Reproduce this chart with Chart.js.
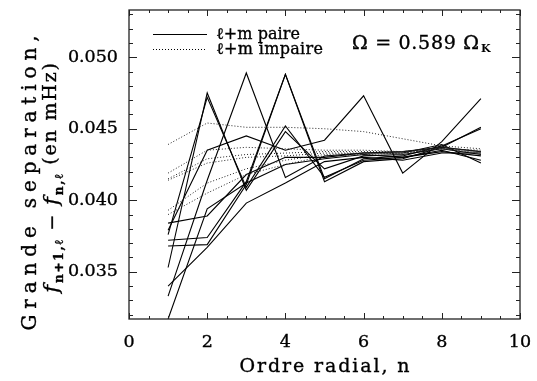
<!DOCTYPE html>
<html>
<head>
<meta charset="utf-8">
<script src="https://cdn.jsdelivr.net/npm/chart.js@4"></script>
<style>
  body { margin: 0; background: #fff; }
  canvas { display: block; }
</style>
</head>
<body>
<canvas id="grandeSeparation" width="537" height="381"></canvas>
<script>
// ordre radial n
const radialOrder = [1, 2, 3, 4, 5, 6, 7, 8, 9];

// l+m paire (traits pleins), en mHz
const paireA = [0.0384, 0.0389, 0.0418, 0.0430, 0.0430, 0.0433, 0.0434, 0.0437, 0.0434];
const paireB = [0.0379, 0.0435, 0.0445, 0.0435, 0.0442, 0.0473, 0.0419, 0.0441, 0.0471];
const paireC = [0.0376, 0.0472, 0.0409, 0.0452, 0.0416, 0.0428, 0.0430, 0.0435, 0.0428];
const paireD = [0.0372, 0.0374, 0.0413, 0.0488, 0.0413, 0.0427, 0.0429, 0.0437, 0.0451];
const paireE = [0.0368, 0.0369, 0.0411, 0.0488, 0.0415, 0.0429, 0.0431, 0.0438, 0.0450];
const paireF = [0.0353, 0.0475, 0.0407, 0.0448, 0.0422, 0.0431, 0.0432, 0.0436, 0.0432];
const paireG = [0.0340, 0.0367, 0.0398, 0.0412, 0.0427, 0.0430, 0.0428, 0.0433, 0.0433];
const paireH = [0.0333, 0.0414, 0.0489, 0.0416, 0.0431, 0.0433, 0.0433, 0.0439, 0.0426];
const paireI = [0.0317, 0.0394, 0.0412, 0.0425, 0.0429, 0.0432, 0.0430, 0.0434, 0.0431];

// l+m impaire (pointillés)
const impaireA = [0.0439, 0.0454, 0.0451, 0.0451, 0.0450, 0.0448, 0.0443, 0.0438, 0.0436];
const impaireB = [0.0419, 0.0435, 0.0437, 0.0436, 0.0435, 0.0435, 0.0434, 0.0436, 0.0435];
const impaireC = [0.0415, 0.0429, 0.0432, 0.0433, 0.0434, 0.0434, 0.0434, 0.0437, 0.0434];
const impaireD = [0.0414, 0.0426, 0.0430, 0.0431, 0.0433, 0.0433, 0.0433, 0.0436, 0.0433];
const impaireE = [0.0393, 0.0412, 0.0422, 0.0428, 0.0432, 0.0433, 0.0434, 0.0437, 0.0434];
const impaireF = [0.0390, 0.0405, 0.0418, 0.0425, 0.0431, 0.0432, 0.0433, 0.0436, 0.0433];

const seriesPaire = [paireA, paireB, paireC, paireD, paireE, paireF, paireG, paireH, paireI];
const seriesImpaire = [impaireA, impaireB, impaireC, impaireD, impaireE, impaireF];

const xTicks = [0, 2, 4, 6, 8, 10];
const yTicks = [0.035, 0.040, 0.045, 0.050];
const xMin = 0, xMax = 10;
const yMin = 0.0317, yMax = 0.0533;

const SERIF = '"DejaVu Serif", "Liberation Serif", serif';

function toPoints(vals) {
    return radialOrder.map((n, i) => ({ x: n, y: vals[i] }));
}

const datasets = [];
seriesImpaire.forEach(vals => {
    datasets.push({
        data: toPoints(vals),
        borderColor: "#222",
        borderWidth: 1,
        borderDash: [1, 2]
    });
});
seriesPaire.forEach(vals => {
    datasets.push({
        data: toPoints(vals),
        borderColor: "#000",
        borderWidth: 1.1
    });
});

// texte un peu plus gras (trait fin autour)
function heavyText(ctx, text, x, y) {
    ctx.fillText(text, x, y);
    ctx.lineWidth = 0.35;
    ctx.strokeStyle = "#000";
    ctx.strokeText(text, x, y);
}

// dessine un texte étiré à une largeur donnée (espacement des lettres)
function fitText(ctx, text, x, y, width, align) {
    ctx.letterSpacing = "0px";
    const w = ctx.measureText(text).width;
    const sp = text.length > 1 ? (width - w) / (text.length - 1) : 0;
    ctx.letterSpacing = sp + "px";
    let x0 = x;
    if (align === "center") x0 = x - width / 2;
    if (align === "right") x0 = x - width;
    ctx.textAlign = "left";
    heavyText(ctx, text, x0, y);
    ctx.letterSpacing = "0px";
}

// morceaux de texte avec indices
function drawRuns(ctx, runs, cx, y, spacing) {
    let total = 0;
    runs.forEach(r => {
        ctx.font = r.font;
        ctx.letterSpacing = spacing + "px";
        r.w = ctx.measureText(r.text).width;
        total += r.w;
    });
    let x = cx - total / 2;
    ctx.textAlign = "left";
    runs.forEach(r => {
        ctx.font = r.font;
        ctx.letterSpacing = spacing + "px";
        heavyText(ctx, r.text, x, y + (r.dy || 0));
        x += r.w;
    });
    ctx.letterSpacing = "0px";
}

const idlAxes = {
    id: "idlAxes",
    afterDatasetsDraw(chart) {
        const { ctx, chartArea: a, scales: { x, y } } = chart;
        ctx.save();
        ctx.strokeStyle = "#222";
        ctx.lineWidth = 1.3;
        ctx.strokeRect(a.left, a.top, a.right - a.left, a.bottom - a.top);

        ctx.lineWidth = 1;
        ctx.beginPath();
        for (let k = 0; k <= 20; k++) {
            const v = k * 0.5;
            const px = Math.round(x.getPixelForValue(v)) + 0.5;
            const len = (k % 4 === 0) ? 6 : 3;
            ctx.moveTo(px, a.bottom); ctx.lineTo(px, a.bottom - len);
            ctx.moveTo(px, a.top); ctx.lineTo(px, a.top + len);
        }
        for (let k = 32; k <= 53; k++) {
            const v = k / 1000;
            const py = Math.round(y.getPixelForValue(v)) + 0.5;
            const len = (k % 5 === 0) ? 8 : 4;
            ctx.moveTo(a.left, py); ctx.lineTo(a.left + len, py);
            ctx.moveTo(a.right, py); ctx.lineTo(a.right - len, py);
        }
        ctx.stroke();

        ctx.fillStyle = "#000";
        ctx.font = "17.5px " + SERIF;
        ctx.textBaseline = "middle";
        yTicks.forEach(v => {
            ctx.textAlign = "right";
            heavyText(ctx, v.toFixed(3), a.left - 11, y.getPixelForValue(v));
        });
        xTicks.forEach(v => {
            ctx.textAlign = "center";
            heavyText(ctx, String(v), x.getPixelForValue(v), 342);
        });

        // titre axe x
        ctx.textBaseline = "alphabetic";
        ctx.font = "19px " + SERIF;
        fitText(ctx, "Ordre radial, n", (a.left + a.right) / 2, 372, 170, "center");

        // titre axe y (deux lignes, tourné)
        ctx.save();
        ctx.rotate(-Math.PI / 2);
        ctx.font = "20px " + SERIF;
        fitText(ctx, "Grande separation,", -183, 36, 295, "center");
        drawRuns(ctx, [
            { text: "f", font: "italic 21px " + SERIF },
            { text: "n+1,\u2113", font: "bold 12px " + SERIF, dy: 5 },
            { text: " \u2212 ", font: "19px " + SERIF },
            { text: "f", font: "italic 21px " + SERIF },
            { text: "n,\u2113", font: "bold 12px " + SERIF, dy: 5 },
            { text: " (en mHz)", font: "19px " + SERIF, dy: -2 }
        ], -177, 58, 1.8);
        ctx.restore();

        // légende
        ctx.strokeStyle = "#000";
        ctx.lineWidth = 1;
        ctx.beginPath();
        ctx.moveTo(153, 34.5); ctx.lineTo(207, 34.5);
        ctx.stroke();
        ctx.setLineDash([1, 2]);
        ctx.beginPath();
        ctx.moveTo(153, 49.5); ctx.lineTo(207, 49.5);
        ctx.stroke();
        ctx.setLineDash([]);

        ctx.font = "16px " + SERIF;
        fitText(ctx, "\u2113+m paire", 216, 39, 84, "left");
        fitText(ctx, "\u2113+m impaire", 216, 54, 107, "left");

        ctx.font = "19px " + SERIF;
        fitText(ctx, "\u03A9 = 0.589 \u03A9", 352, 49, 127, "left");
        ctx.font = "bold 11px " + SERIF;
        ctx.textAlign = "left";
        ctx.fillText("K", 481, 52);
        ctx.restore();
    }
};

new Chart(document.getElementById("grandeSeparation").getContext("2d"), {
    type: "line",
    data: { datasets: datasets },
    options: {
        responsive: false,
        animation: false,
        layout: { padding: { left: 129, right: 17, top: 10, bottom: 62 } },
        elements: { point: { radius: 0 }, line: { tension: 0 } },
        scales: {
            x: { type: "linear", min: xMin, max: xMax, display: false },
            y: { type: "linear", min: yMin, max: yMax, display: false }
        },
        plugins: { legend: { display: false }, tooltip: { enabled: false } }
    },
    plugins: [idlAxes]
});
</script>
</body>
</html>
